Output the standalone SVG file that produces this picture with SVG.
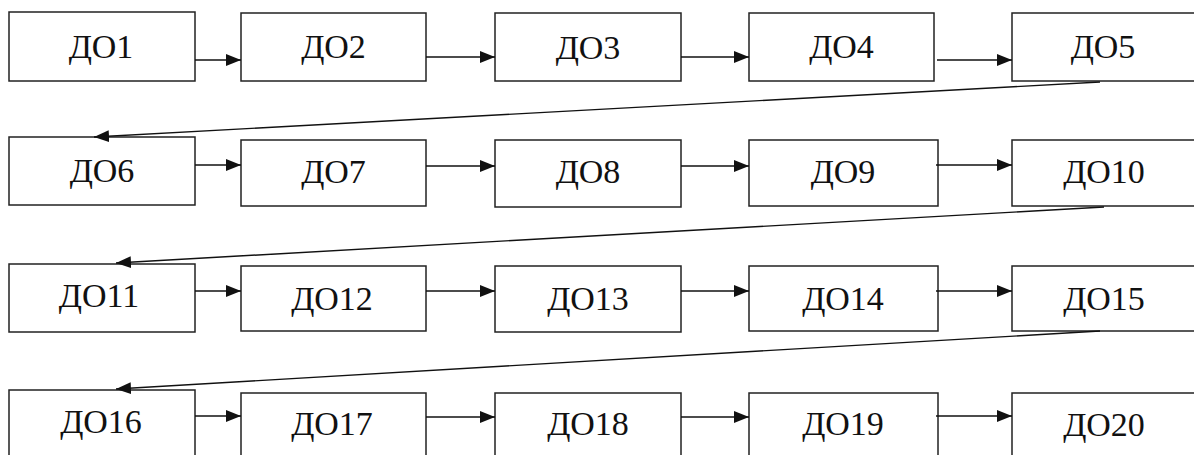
<svg xmlns="http://www.w3.org/2000/svg" width="1194" height="455" viewBox="0 0 1194 455">
<style>
.box{fill:#fff;stroke:#222;stroke-width:1.5}
text{font-family:'Liberation Serif','Times New Roman',serif;font-size:34px;fill:#111;text-anchor:middle}
.con{stroke:#111;stroke-width:1.4;fill:none;marker-end:url(#ah)}
</style>
<defs>
<marker id="ah" markerUnits="userSpaceOnUse" markerWidth="16" markerHeight="12" refX="15" refY="6" orient="auto">
<path d="M0,0 L15,6 L0,12 z" fill="#111"/>
</marker>
</defs>
<rect width="1194" height="455" fill="#fff"/>
<g id="n1"><rect class="box" x="9" y="12" width="186" height="69"/><text x="101" y="58">ДО1</text></g>
<g id="n2"><rect class="box" x="241" y="13" width="185" height="68"/><text x="333.5" y="58">ДО2</text></g>
<g id="n3"><rect class="box" x="495" y="13" width="186" height="68"/><text x="588" y="59">ДО3</text></g>
<g id="n4"><rect class="box" x="749" y="13" width="185" height="68"/><text x="841.5" y="58">ДО4</text></g>
<g id="n5"><rect class="box" x="1012" y="13" width="190" height="68"/><text x="1103" y="58">ДО5</text></g>
<g id="n6"><rect class="box" x="9" y="137" width="186" height="68"/><text x="102" y="182">ДО6</text></g>
<g id="n7"><rect class="box" x="241" y="140" width="185" height="66"/><text x="333.5" y="183">ДО7</text></g>
<g id="n8"><rect class="box" x="495" y="140" width="186" height="67"/><text x="588" y="183">ДО8</text></g>
<g id="n9"><rect class="box" x="749" y="140" width="189" height="66"/><text x="843" y="183">ДО9</text></g>
<g id="n10"><rect class="box" x="1012" y="140" width="190" height="66"/><text x="1104" y="183">ДО10</text></g>
<g id="n11"><rect class="box" x="9" y="264" width="186" height="68"/><text x="99" y="307">ДО11</text></g>
<g id="n12"><rect class="box" x="241" y="266" width="185" height="65"/><text x="332" y="310">ДО12</text></g>
<g id="n13"><rect class="box" x="495" y="266" width="186" height="66"/><text x="588" y="310">ДО13</text></g>
<g id="n14"><rect class="box" x="749" y="266" width="189" height="65"/><text x="843" y="310">ДО14</text></g>
<g id="n15"><rect class="box" x="1012" y="266" width="190" height="65"/><text x="1104" y="310">ДО15</text></g>
<g id="n16"><rect class="box" x="9" y="390" width="186" height="70"/><text x="101" y="433">ДО16</text></g>
<g id="n17"><rect class="box" x="241" y="393" width="185" height="70"/><text x="332" y="435">ДО17</text></g>
<g id="n18"><rect class="box" x="495" y="393" width="186" height="70"/><text x="588" y="435">ДО18</text></g>
<g id="n19"><rect class="box" x="749" y="393" width="189" height="70"/><text x="843" y="435">ДО19</text></g>
<g id="n20"><rect class="box" x="1012" y="393" width="190" height="70"/><text x="1104" y="436">ДО20</text></g>
<g id="connectors">
<line class="con" x1="195" y1="60" x2="241" y2="60"/>
<line class="con" x1="426" y1="57" x2="495" y2="57"/>
<line class="con" x1="681" y1="57" x2="749" y2="57"/>
<line class="con" x1="937" y1="60" x2="1012" y2="60"/>
<line class="con" x1="1100" y1="82" x2="94" y2="137"/>
<line class="con" x1="195" y1="165" x2="241" y2="165"/>
<line class="con" x1="426" y1="166" x2="495" y2="166"/>
<line class="con" x1="681" y1="166" x2="749" y2="166"/>
<line class="con" x1="936" y1="165" x2="1012" y2="165"/>
<line class="con" x1="1104" y1="207" x2="116" y2="263"/>
<line class="con" x1="195" y1="291" x2="241" y2="291"/>
<line class="con" x1="426" y1="291" x2="495" y2="291"/>
<line class="con" x1="681" y1="291" x2="749" y2="291"/>
<line class="con" x1="936" y1="291" x2="1012" y2="291"/>
<line class="con" x1="1100" y1="331" x2="116" y2="389"/>
<line class="con" x1="195" y1="416" x2="241" y2="416"/>
<line class="con" x1="426" y1="417" x2="495" y2="417"/>
<line class="con" x1="681" y1="417" x2="749" y2="417"/>
<line class="con" x1="936" y1="416" x2="1012" y2="416"/>
</g>
</svg>
